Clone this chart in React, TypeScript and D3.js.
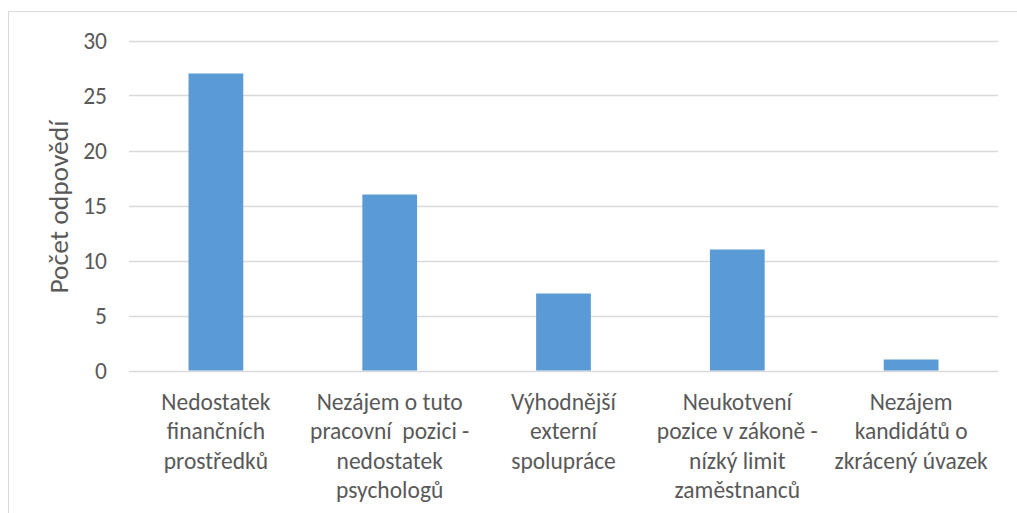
import React, { useEffect, useRef } from "react";
import * as d3 from "d3";

const categories: string[][] = [
  ["Nedostatek", "finančních", "prostředků"],
  ["Nezájem o tuto", "pracovní  pozici -", "nedostatek", "psychologů"],
  ["Výhodnější", "externí", "spolupráce"],
  ["Neukotvení", "pozice v zákoně -", "nízký limit", "zaměstnanců"],
  ["Nezájem", "kandidátů o", "zkrácený úvazek"],
];
const values: number[] = [27, 16, 7, 11, 1];
const yTicks: number[] = [0, 5, 10, 15, 20, 25, 30];
const yTitle = "Počet odpovědí";

const W = 1017;
const H = 513;
const FONT = "Carlito, Calibri, Lato, 'Open Sans', sans-serif";
const TEXT = "#595959";

export default function App() {
  const ref = useRef<SVGSVGElement>(null);
  useEffect(() => {
    const svg = d3.select(ref.current);
    svg.selectAll("*").remove();
    const left = 129, right = 998, top = 40.5, bottom = 370.5;
    const x = d3.scaleBand<number>().domain(values.map((_, i) => i)).range([left, right]).paddingInner(0.685).paddingOuter(0.3425);
    const y = d3.scaleLinear().domain([0, 30]).range([bottom, top]);

    svg.append("rect").attr("x", 8.5).attr("y", 11.5).attr("width", W).attr("height", H)
      .attr("fill", "#fff").attr("stroke", "#D9D9D9").attr("stroke-width", 1);

    const g = svg.append("g");
    g.selectAll("line.grid").data(yTicks).join("line")
      .attr("x1", left).attr("x2", right)
      .attr("y1", d => Math.round(y(d)) + 0.5).attr("y2", d => Math.round(y(d)) + 0.5)
      .attr("stroke", "#D9D9D9").attr("stroke-width", 1.3);

    g.selectAll("text.yt").data(yTicks).join("text")
      .attr("x", 107).attr("y", d => y(d)).attr("dy", "0.35em")
      .attr("text-anchor", "end").attr("font-family", FONT).attr("font-size", 23.5)
      .attr("fill", TEXT).text(d => String(d));

    g.selectAll("rect.bar").data(values).join("rect")
      .attr("x", (_, i) => x(i)!).attr("width", x.bandwidth())
      .attr("y", d => y(d)).attr("height", d => y(0) - y(d))
      .attr("fill", "#5B9BD5");

    const cw = (right - left) / values.length;
    categories.forEach((lines, i) => {
      const cx = left + cw * (i + 0.5);
      const t = g.append("text").attr("text-anchor", "middle").attr("font-family", FONT)
        .attr("font-size", 23.5).attr("fill", TEXT).attr("xml:space", "preserve");
      lines.forEach((ln, j) => {
        t.append("tspan").attr("x", cx).attr("y", 410 + j * 29.3).text(ln);
      });
    });

    g.append("text").attr("transform", `translate(68,${207}) rotate(-90)`)
      .attr("text-anchor", "middle").attr("font-family", FONT).attr("font-size", 27.5)
      .attr("fill", TEXT).text(yTitle);
  }, []);
  return (
    <svg ref={ref} width={W} height={H} style={{ position: "absolute", left: 0, top: 0 }} />
  );
}
